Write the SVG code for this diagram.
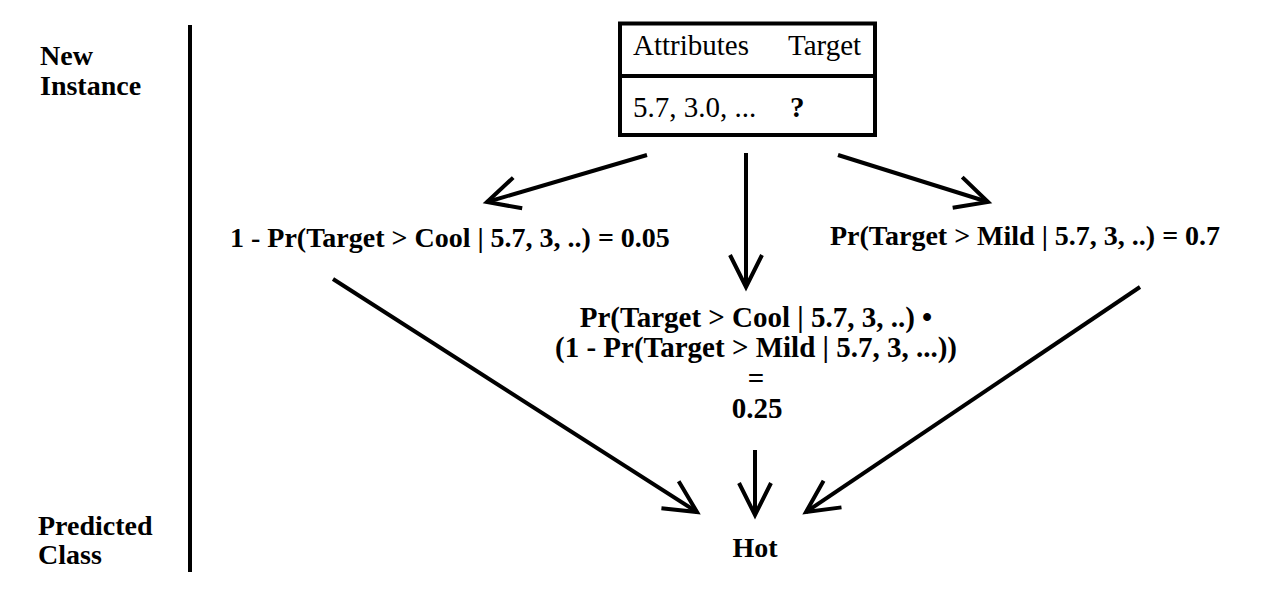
<svg xmlns="http://www.w3.org/2000/svg" width="1276" height="596" viewBox="0 0 1276 596">
<style>
.b{font-family:"Liberation Serif","Times New Roman",serif;font-weight:bold;font-size:28px;fill:#000}
.m{font-size:29px}
.r{font-family:"Liberation Serif","Times New Roman",serif;font-size:29px;fill:#000}
.ln{stroke:#000;stroke-width:4;fill:none}
.c{text-anchor:middle}
</style>
<defs>
<marker id="ah" markerUnits="userSpaceOnUse" markerWidth="80" markerHeight="80" refX="0" refY="0" viewBox="-40 -40 80 80" orient="auto" overflow="visible">
<path d="M-32,-16 L0,0 L-32,16" fill="none" stroke="#000" stroke-width="4" stroke-linejoin="miter"/>
</marker>
</defs>
<g id="axis">
<line class="ln" x1="190" y1="25" x2="190" y2="572"/>
<text class="b" x="40" y="65">New</text>
<text class="b" x="40" y="95">Instance</text>
<text class="b" x="38" y="535">Predicted</text>
<text class="b" x="38" y="564">Class</text>
</g>
<g id="instance">
<rect class="ln" x="620" y="23.5" width="255" height="111.5"/>
<line class="ln" x1="620" y1="76" x2="875" y2="76"/>
<text class="r" x="633" y="55">Attributes</text>
<text class="r" x="788" y="55">Target</text>
<text class="r" x="633" y="117">5.7, 3.0, ...</text>
<text class="r" x="790" y="117" font-weight="bold">?</text>
</g>
<g id="left">
<text class="b" x="230" y="247">1 - Pr(Target &gt; Cool | 5.7, 3, ..) = 0.05</text>
</g>
<g id="right">
<text class="b" x="830" y="245">Pr(Target &gt; Mild | 5.7, 3, ..) = 0.7</text>
</g>
<g id="middle">
<text class="b m c" x="756" y="327">Pr(Target &gt; Cool | 5.7, 3, ..) •</text>
<text class="b m c" x="756" y="357">(1 - Pr(Target &gt; Mild | 5.7, 3, ...))</text>
<text class="b m c" x="756" y="388">=</text>
<text class="b m c" x="757" y="418">0.25</text>
</g>
<g id="hot">
<text class="b c" x="755" y="557">Hot</text>
</g>
<g id="connectors">
<line class="ln" x1="647" y1="155" x2="487" y2="202" marker-end="url(#ah)"/>
<line class="ln" x1="746" y1="153" x2="746" y2="287" marker-end="url(#ah)"/>
<line class="ln" x1="838" y1="155" x2="988" y2="202" marker-end="url(#ah)"/>
<line class="ln" x1="333" y1="279" x2="697" y2="512" marker-end="url(#ah)"/>
<line class="ln" x1="755" y1="450" x2="755" y2="515" marker-end="url(#ah)"/>
<line class="ln" x1="1140" y1="287" x2="806" y2="512" marker-end="url(#ah)"/>
</g>
</svg>
